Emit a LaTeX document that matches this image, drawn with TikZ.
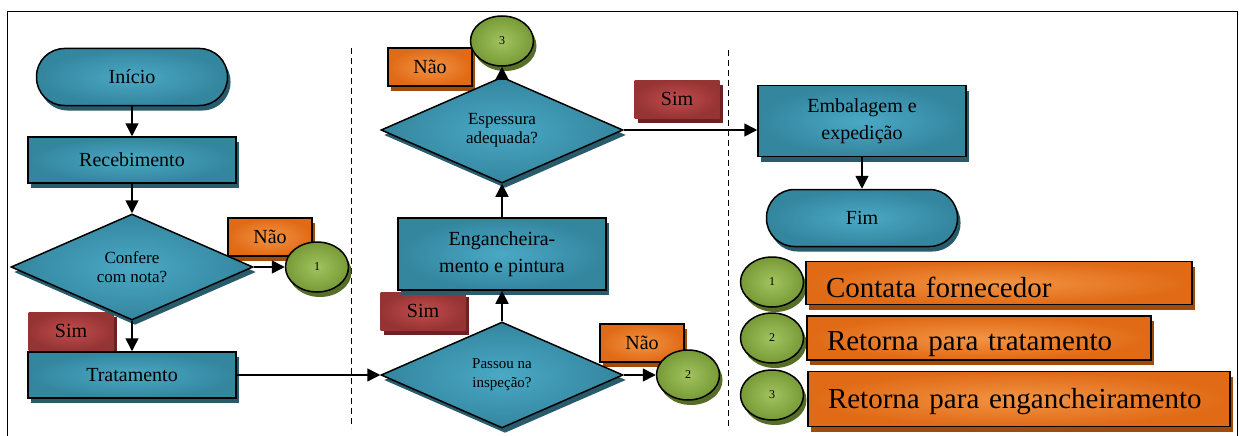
\documentclass[tikz,border=0pt]{standalone}
\usepackage{fontspec}
\setmainfont{Liberation Serif}
\usepackage{xcolor}
\usetikzlibrary{arrows.meta,shapes.geometric,shadows,positioning}
\definecolor{tealin}{HTML}{4AA9C5}
\definecolor{tealout}{HTML}{34859E}
\definecolor{tealshd}{HTML}{285C6C}
\definecolor{orgin}{HTML}{F29444}
\definecolor{orgout}{HTML}{E06A16}
\definecolor{orgshd}{HTML}{A04A0C}
\definecolor{redin}{HTML}{C44C4C}
\definecolor{redout}{HTML}{963434}
\definecolor{redshd}{HTML}{6A2222}
\definecolor{grnin}{HTML}{A2C35E}
\definecolor{grnout}{HTML}{779A38}
\definecolor{grnshd}{HTML}{566E28}

\begin{document}
\begin{tikzpicture}[x=1pt,y=-1pt]
		\tikzstyle{every node}=[font=\fontsize{20}{27}\selectfont, align=center]
		\tikzstyle{proc}=[draw, line width=1.5pt, inner color=tealin, outer color=tealout, minimum width=208, minimum height=46, drop shadow={fill=tealshd, opacity=1, shadow xshift=3pt, shadow yshift=-5pt}]
		\tikzstyle{term}=[proc, rounded corners=28pt, minimum width=191, minimum height=57]
		\tikzstyle{decis}=[diamond, draw, line width=1.5pt, inner sep=0pt, inner color=tealin, outer color=tealout, minimum width=242, minimum height=106, font=\fontsize{17}{19}\selectfont, drop shadow={fill=tealshd, opacity=1, shadow xshift=3pt, shadow yshift=-5pt}]
		\tikzstyle{conn}=[ellipse, draw, line width=1.5pt, inner color=grnin, outer color=grnout, minimum width=63, minimum height=50, font=\fontsize{12}{14}\selectfont, drop shadow={fill=grnshd, opacity=1, shadow xshift=3pt, shadow yshift=-5pt}]
		\tikzstyle{nao}=[draw, line width=1.2pt, inner color=orgin, outer color=orgout, minimum width=84, minimum height=38, drop shadow={fill=orgshd, opacity=1, shadow xshift=3pt, shadow yshift=-5pt}]
		\tikzstyle{sim}=[inner color=redin, outer color=redout, minimum width=85, minimum height=38, drop shadow={fill=redshd, opacity=1, shadow xshift=3pt, shadow yshift=-5pt}]
		\tikzstyle{legbox}=[draw, line width=1.2pt, inner color=orgin, outer color=orgout, inner xsep=20pt, align=left, font=\fontsize{29}{32}\selectfont, text depth=0pt, drop shadow={fill=orgshd, opacity=1, shadow xshift=3pt, shadow yshift=-5pt}]
		\tikzstyle{flow}=[line width=1.5pt, ->, >={Triangle[length=13pt,width=13pt]}]
		\useasboundingbox (0,0) rectangle (1239,436);
		% frame and lanes
		\draw [line width=1pt] (7,440) -- (7,12) -- (1237,12) -- (1237,440);
		\draw [line width=1pt, dash pattern=on 6pt off 4pt] (351,48) -- (351,428);
		\draw [line width=1pt, dash pattern=on 6pt off 4pt] (728,50) -- (728,430);
		% yes / no labels
		\node [nao] (nao1) at (270,237) {Não};
		\node [nao] (nao2) at (430,67) {Não};
		\node [nao] (nao3) at (642,343) {Não};
		\node [sim] (sim1) at (71,331) {Sim};
		\node [sim] (sim2) at (423,311) {Sim};
		\node [sim] (sim3) at (677,99) {Sim};
		% first lane
		\node [term] (inicio) at (132,77) {Início};
		\node [proc] (receb) at (132,160) {Recebimento};
		\node [decis] (confere) at (132,267) {Confere\\com nota?};
		\node [proc] (trat) at (132,375) {Tratamento};
		\node [conn] (c1) at (317,267) {1};
		% second lane
		\node [decis, font=\fontsize{15}{19}\selectfont] (passou) at (502,375) {Passou na\\inspeção?};
		\node [proc, minimum height=72] (engan) at (502,254) {Engancheira-\\mento e pintura};
		\node [decis] (espes) at (502,130) {Espessura\\adequada?};
		\node [conn] (c2) at (688,375) {2};
		\node [conn] (c3) at (502,41) {3};
		% third lane
		\node [proc, minimum height=71] (embal) at (862,121) {Embalagem e\\expedição};
		\node [term] (fim) at (862,218) {Fim};
		% legend
		\node [conn] (lc1) at (772,282) {1};
		\node [conn] (lc2) at (772,338) {2};
		\node [conn] (lc3) at (772,395) {3};
		\node [legbox, text width=346, text height=28pt, minimum height=43] (leg1) at (999,283) {Contata fornecedor};
		\node [legbox, text width=304, text height=24pt, minimum height=44] (leg2) at (979,338) {Retorna para tratamento};
		\node [legbox, text width=382, text height=19pt, minimum height=55] (leg3) at (1019,399) {Retorna para engancheiramento};
		% connectors
		\draw [flow] (inicio) -- (receb);
		\draw [flow] (receb) -- (confere);
		\draw [flow] (confere) -- (trat);
		\draw [flow] (confere) -- (c1);
		\draw [flow] (trat) -- (passou);
		\draw [flow] (passou) -- (engan);
		\draw [flow] (passou) -- (c2);
		\draw [flow] (engan) -- (espes);
		\draw [flow] (espes) -- (c3);
		\draw [flow] (espes.east) -- (espes.east -| embal.west);
		\draw [flow] (embal) -- (fim);
	\end{tikzpicture}
\end{document}
